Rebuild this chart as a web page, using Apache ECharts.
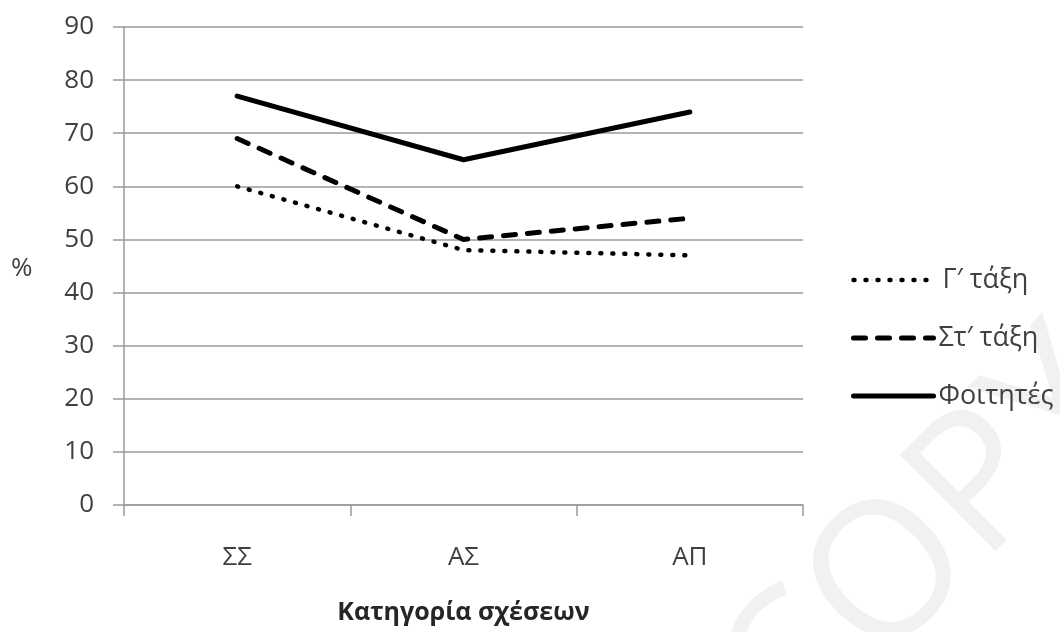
<!DOCTYPE html>
<html>
<head>
<meta charset="utf-8">
<script src="https://cdn.jsdelivr.net/npm/echarts@6/dist/echarts.min.js"></script>
<style>
  html, body { margin: 0; padding: 0; background: #fff; }
  #chart { width: 1060px; height: 632px; }
</style>
</head>
<body>
<div id="chart"></div>
<script>
// Relationship categories on the x axis
const categories = ['ΣΣ', 'ΑΣ', 'ΑΠ'];

// Percentages per group
const grade3 = [60, 48, 47];       // Γ′ τάξη
const grade6 = [69, 50, 54];       // Στ′ τάξη
const students = [77, 65, 74];     // Φοιτητές

const seriesNames = ['Γ′ τάξη', 'Στ′ τάξη', 'Φοιτητές'];

const yTicks = { min: 0, max: 90, interval: 10 };

const FONT = '"Open Sans", "DejaVu Sans", sans-serif';
const TEXT = '#404040';
const GRID = '#9a9a9a';

// Line looks per series: dotted, dashed, solid
const dotted = { color: '#000', width: 4.5, type: [1, 11], cap: 'round', join: 'round' };
const dashed = { color: '#000', width: 5, type: [12, 12], cap: 'round', join: 'round' };
const solid = { color: '#000', width: 5, type: 'solid', cap: 'round', join: 'round' };

const chart = echarts.init(document.getElementById('chart'), null, { renderer: 'canvas' });

chart.setOption({
  backgroundColor: '#ffffff',
  animation: false,
  textStyle: { fontFamily: FONT },
  grid: { left: 124, right: 257, top: 27, bottom: 127, containLabel: false },
  graphic: [
    {
      type: 'text',
      z: -10,
      silent: true,
      x: 822, y: 782,
      rotation: Math.PI / 4,
      style: {
        text: 'COPY',
        fontFamily: FONT,
        fontSize: 190,
        fill: '#f1f1f1',
        textAlign: 'left',
        textVerticalAlign: 'bottom'
      }
    },
    {
      type: 'text',
      left: 11, top: 256,
      style: { text: '%', fontFamily: FONT, fontSize: 26, fill: TEXT }
    }
  ],
  legend: {
    orient: 'vertical',
    left: 846,
    top: 259,
    itemWidth: 80,
    itemHeight: 14,
    itemGap: 26,
    itemStyle: { opacity: 0 },
    textStyle: { fontFamily: FONT, fontSize: 27, color: TEXT, lineHeight: 32 },
    data: [
      { name: seriesNames[0], textStyle: { padding: [0, 0, 0, 4] }, lineStyle: dotted },
      { name: seriesNames[1], lineStyle: dashed },
      { name: seriesNames[2], lineStyle: solid }
    ]
  },
  xAxis: {
    type: 'category',
    data: categories,
    boundaryGap: true,
    name: 'Κατηγορία σχέσεων',
    nameLocation: 'middle',
    nameGap: 95,
    nameTextStyle: { fontFamily: FONT, fontSize: 25, fontWeight: 'bold', color: '#262626' },
    axisLine: { show: true, lineStyle: { color: GRID, width: 1.5 } },
    axisTick: { show: true, length: 11, lineStyle: { color: GRID, width: 1.5 } },
    axisLabel: { fontFamily: FONT, fontSize: 26, color: TEXT, margin: 40 },
    splitLine: { show: false }
  },
  yAxis: {
    type: 'value',
    min: yTicks.min,
    max: yTicks.max,
    interval: yTicks.interval,
    axisLine: { show: true, lineStyle: { color: GRID, width: 1.5 } },
    axisTick: { show: true, length: 11, lineStyle: { color: GRID, width: 1.5 } },
    axisLabel: { fontFamily: FONT, fontSize: 26, color: TEXT, margin: 30 },
    splitLine: { show: true, lineStyle: { color: GRID, width: 1.5 } }
  },
  series: [
    { name: seriesNames[0], type: 'line', data: grade3, symbol: 'none', lineStyle: dotted, itemStyle: { color: '#000' } },
    { name: seriesNames[1], type: 'line', data: grade6, symbol: 'none', lineStyle: dashed, itemStyle: { color: '#000' } },
    { name: seriesNames[2], type: 'line', data: students, symbol: 'none', lineStyle: solid, itemStyle: { color: '#000' } }
  ]
});
</script>
</body>
</html>
